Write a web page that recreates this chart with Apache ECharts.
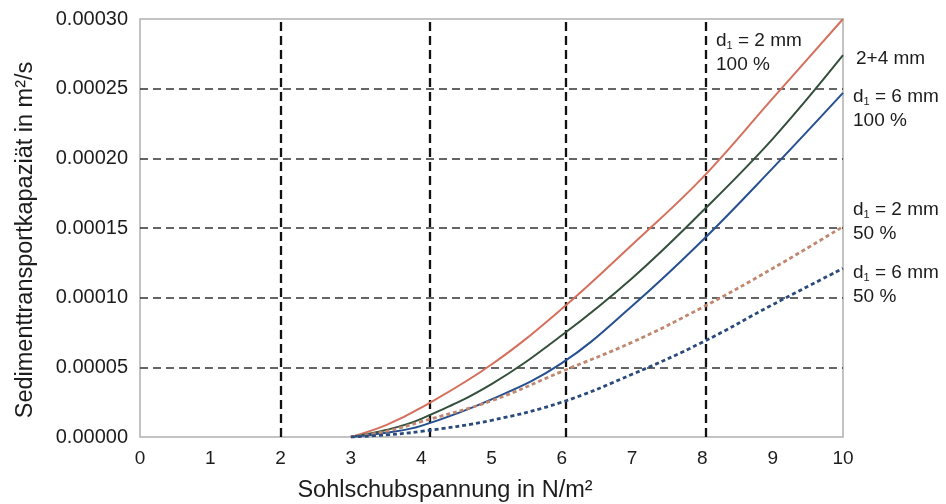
<!DOCTYPE html>
<html><head><meta charset="utf-8">
<script src="https://cdn.jsdelivr.net/npm/echarts@6/dist/echarts.min.js"></script>
<style>html,body{margin:0;padding:0;background:#fff}#c{width:946px;height:504px}</style>
</head><body><div id="c"></div>
<script>
const xs = [3, 3.5, 4, 5, 6, 7, 8, 9, 10];
const d2_100 = [0, 0.0000085, 0.000021, 0.000052, 0.000092, 0.000138, 0.000186, 0.000243, 0.000300];
const d24_100 = [0, 0.000005, 0.000013, 0.000038, 0.000073, 0.000114, 0.000162, 0.000214, 0.000274];
const d6_100 = [0, 0.000003, 0.000008, 0.000027, 0.000053, 0.000094, 0.000141, 0.000193, 0.000247];
const d2_50 = [0, 0.000004, 0.000011, 0.000026, 0.000047, 0.000068, 0.000093, 0.000121, 0.000151];
const d6_50 = [0, 0.0000015, 0.000004, 0.000012, 0.000025, 0.000045, 0.000068, 0.000095, 0.000121];
const vLines = [2, 4.12, 6.05, 8.05];
const hLines = [0.00005, 0.0001, 0.00015, 0.0002, 0.00025];
const xTitle = 'Sohlschubspannung in N/m²';
const yTitle = 'Sedimenttransportkapaziät in m²/s';

const pair = ys => xs.map((x, i) => [x, ys[i]]);
const FONT = 'Liberation Sans, Arial, sans-serif';
const TXT = '#1c1c1c';
const chart = echarts.init(document.getElementById('c'));
const L = 140, R = 843, T = 19, B = 437;

function line(name, ys, color, dotted) {
  return {
    name, type: 'line', data: pair(ys), smooth: 0.4, symbol: 'none',
    lineStyle: { color, width: dotted ? 2.8 : 2, type: dotted ? [4, 3] : 'solid' },
    z: 5
  };
}

const label = (x, y, lines) => ({
  type: 'text', left: x, top: y,
  style: {
    text: lines, fontFamily: FONT, fontSize: 19, fill: TXT, lineHeight: 24,
    rich: { s: { fontSize: 11, fontFamily: FONT, fill: TXT, padding: [10, 0, 0, 0] } }
  }
});

chart.setOption({
  animation: false,
  grid: { left: L, right: 946 - R, top: T, bottom: 504 - B, show: true, borderColor: '#b0b0b0', borderWidth: 1.5 },
  xAxis: {
    type: 'value', min: 0, max: 10, interval: 1,
    axisLine: { show: false }, axisTick: { show: false }, splitLine: { show: false },
    axisLabel: { fontFamily: FONT, fontSize: 19, color: TXT, margin: 12 }
  },
  yAxis: {
    type: 'value', min: 0, max: 0.0003, interval: 0.00005,
    axisLine: { show: false }, axisTick: { show: false }, splitLine: { show: false },
    axisLabel: { fontFamily: FONT, fontSize: 20, color: TXT, margin: 12, formatter: v => v.toFixed(5) }
  },
  series: [
    {
      type: 'line', data: [], silent: true,
      markLine: {
        symbol: 'none', silent: true, precision: 8, label: { show: false },
        data: [
          ...hLines.map(v => ({ yAxis: v, lineStyle: { color: '#333', width: 1.6, type: [8, 5] } })),
          ...vLines.map(v => ({ xAxis: v, lineStyle: { color: '#111', width: 2.3, type: [9, 5] } }))
        ]
      }
    },
    line('d1 = 2 mm 100 %', d2_100, '#d4705c', false),
    line('2+4 mm', d24_100, '#34503c', false),
    line('d1 = 6 mm 100 %', d6_100, '#26508f', false),
    line('d1 = 2 mm 50 %', d2_50, '#c0876f', true),
    line('d1 = 6 mm 50 %', d6_50, '#2b4a7c', true)
  ],
  graphic: [
    label(716, 29, 'd{s|1} = 2 mm\n100 %'),
    label(856, 47, '2+4 mm'),
    label(853, 85, 'd{s|1} = 6 mm\n100 %'),
    label(853, 198, 'd{s|1} = 2 mm\n50 %'),
    label(853, 261, 'd{s|1} = 6 mm\n50 %'),
    {
      type: 'text', x: 445, y: 491,
      style: { text: xTitle, fontFamily: FONT, fontSize: 23.5, fill: TXT, align: 'center', verticalAlign: 'middle' }
    },
    {
      type: 'text', x: 26, y: 240, rotation: Math.PI / 2,
      style: { text: yTitle, fontFamily: FONT, fontSize: 23.5, fill: TXT, align: 'center', verticalAlign: 'middle' }
    }
  ]
});
</script></body></html>
